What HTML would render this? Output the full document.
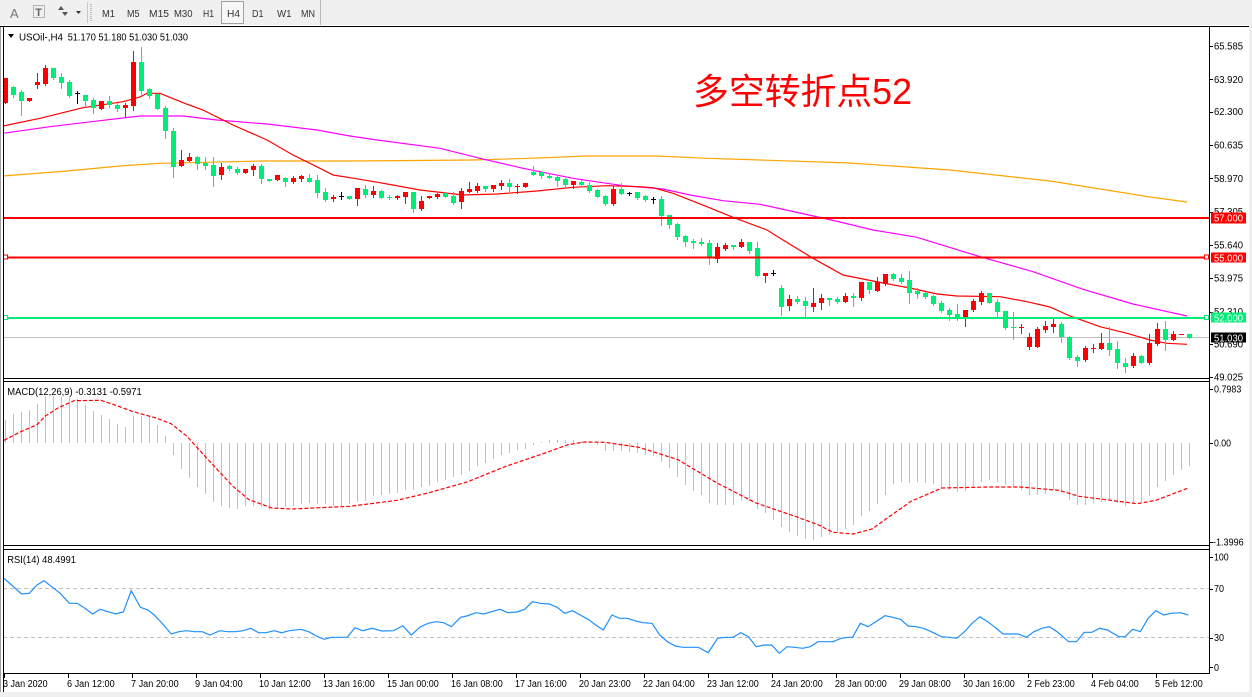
<!DOCTYPE html>
<html><head><meta charset="utf-8">
<style>
html,body{margin:0;padding:0;background:#fff;width:1252px;height:697px;overflow:hidden}
svg{display:block}
text{font-family:"Liberation Sans","DejaVu Sans",sans-serif;}
</style></head><body>
<svg id="s" width="1252" height="697" viewBox="0 0 1252 697" xmlns="http://www.w3.org/2000/svg">
<rect width="1252" height="697" fill="#fff"/>
<!-- toolbar -->
<rect x="0" y="0" width="1252" height="25" fill="#f0f0f0"/>
<text x="10" y="18" font-size="13" fill="#777">A</text>
<rect x="33.5" y="5.5" width="11" height="12" fill="none" stroke="#777" stroke-dasharray="1,1"/>
<text x="35.3" y="16" font-size="11" font-weight="bold" fill="#666">T</text>
<path d="M58,10 L61,6 L64,10 Z M62,12 L65,16 L68,12 Z" fill="#555"/>
<polygon points="76,11 81,11 78.5,14" fill="#333"/>
<line x1="87.5" y1="2" x2="87.5" y2="23" stroke="#c8c8c8"/>
<line x1="91" y1="4" x2="91" y2="21" stroke="#888" stroke-dasharray="1,1"/>
<rect x="221.5" y="1.5" width="22" height="22" fill="#f7f7f7" stroke="#a0a0a0"/>
<g font-size="10" fill="#333">
<text x="102" y="17" textLength="13" lengthAdjust="spacingAndGlyphs">M1</text>
<text x="127" y="17" textLength="12.5" lengthAdjust="spacingAndGlyphs">M5</text>
<text x="149" y="17" textLength="20" lengthAdjust="spacingAndGlyphs">M15</text>
<text x="174" y="17" textLength="18.5" lengthAdjust="spacingAndGlyphs">M30</text>
<text x="203" y="17" textLength="11" lengthAdjust="spacingAndGlyphs">H1</text>
<text x="227" y="17" textLength="13" lengthAdjust="spacingAndGlyphs">H4</text>
<text x="252" y="17" textLength="11.5" lengthAdjust="spacingAndGlyphs">D1</text>
<text x="277" y="17" textLength="14.5" lengthAdjust="spacingAndGlyphs">W1</text>
<text x="301" y="17" textLength="14" lengthAdjust="spacingAndGlyphs">MN</text>
</g>
<line x1="320.5" y1="0" x2="320.5" y2="25" stroke="#b8b8b8"/>
<!-- window edges -->
<rect x="1249" y="25" width="3" height="672" fill="#f0f0f0"/>
<rect x="0" y="692" width="1252" height="5" fill="#f0f0f0"/>
<line x1="0.5" y1="26" x2="0.5" y2="692" stroke="#a0a0a0"/>

<!-- main panel content -->
<line x1="3" y1="337.5" x2="1209" y2="337.5" stroke="#c0c0c0"/>
<g id="ma"></g>
<g id="candles" shape-rendering="crispEdges"></g>
<!-- horizontal level lines -->
<g shape-rendering="crispEdges">
<rect x="3" y="217" width="1206" height="2" fill="#ff0000"/>
<rect x="3" y="256.5" width="1206" height="2" fill="#ff0000"/>
<rect x="3.5" y="255" width="4" height="4" fill="#fff" stroke="#ff0000"/>
<rect x="1204.5" y="255" width="4" height="4" fill="#fff" stroke="#ff0000"/>
<rect x="3" y="317" width="1206" height="2" fill="#00ee77"/>
<rect x="3.5" y="315.5" width="4" height="4" fill="#fff" stroke="#00ee77"/>
<rect x="1204.5" y="315.5" width="4" height="4" fill="#fff" stroke="#00ee77"/>
</g>

<!-- MACD -->
<g id="macd" shape-rendering="crispEdges"></g>
<g id="sig"></g>
<!-- RSI -->
<line x1="3" y1="588.5" x2="1209" y2="588.5" stroke="#c0c0c0" stroke-dasharray="4,3"/>
<line x1="3" y1="637.5" x2="1209" y2="637.5" stroke="#c0c0c0" stroke-dasharray="4,3"/>
<g id="rsi"></g>

<!-- frames -->
<g fill="none" stroke="#000" stroke-width="1" shape-rendering="crispEdges">
<line x1="0" y1="26.5" x2="1249" y2="26.5"/>
<line x1="3.5" y1="26" x2="3.5" y2="692"/>
<line x1="1209.5" y1="26" x2="1209.5" y2="674"/>
<line x1="3" y1="378.5" x2="1210" y2="378.5"/>
<line x1="3" y1="381.5" x2="1210" y2="381.5"/>
<line x1="3" y1="545.5" x2="1210" y2="545.5"/>
<line x1="3" y1="549.5" x2="1210" y2="549.5"/>
<line x1="3" y1="673.5" x2="1210" y2="673.5"/>
</g>
<g id="ticks" stroke="#000" shape-rendering="crispEdges"></g>

<!-- headers -->
<polygon points="8,34 14,34 11,38" fill="#000"/>
<text x="19" y="40.5" font-size="10" textLength="44" lengthAdjust="spacingAndGlyphs">USOil-,H4</text>
<text x="67.7" y="40.5" font-size="10" textLength="120.3" lengthAdjust="spacingAndGlyphs">51.170 51.180 51.030 51.030</text>
<text x="7.3" y="395" font-size="10" textLength="134.4" lengthAdjust="spacingAndGlyphs">MACD(12,26,9) -0.3131 -0.5971</text>
<text x="7.3" y="563" font-size="10" textLength="68.7" lengthAdjust="spacingAndGlyphs">RSI(14) 48.4991</text>

<text x="693" y="104" font-size="36" fill="#ff0000" style="font-family:'Liberation Sans','Noto Sans CJK SC',sans-serif" textLength="219" lengthAdjust="spacingAndGlyphs">多空转折点52</text>

<!-- price axis labels -->
<g font-size="10" fill="#000">
<text x="1214" y="49.5" textLength="29" lengthAdjust="spacingAndGlyphs">65.585</text>
<text x="1214" y="82.8" textLength="29" lengthAdjust="spacingAndGlyphs">63.920</text>
<text x="1214" y="115.2" textLength="29" lengthAdjust="spacingAndGlyphs">62.300</text>
<text x="1214" y="148.5" textLength="29" lengthAdjust="spacingAndGlyphs">60.635</text>
<text x="1214" y="181.8" textLength="29" lengthAdjust="spacingAndGlyphs">58.970</text>
<text x="1214" y="215.1" textLength="29" lengthAdjust="spacingAndGlyphs">57.305</text>
<text x="1214" y="248.4" textLength="29" lengthAdjust="spacingAndGlyphs">55.640</text>
<text x="1214" y="281.7" textLength="29" lengthAdjust="spacingAndGlyphs">53.975</text>
<text x="1214" y="315" textLength="29" lengthAdjust="spacingAndGlyphs">52.310</text>
<text x="1214" y="347.4" textLength="29" lengthAdjust="spacingAndGlyphs">50.690</text>
<text x="1214" y="380.5" textLength="29" lengthAdjust="spacingAndGlyphs">49.025</text>
</g>
<g shape-rendering="crispEdges">
<rect x="1211" y="212.5" width="35" height="11" fill="#ff0000"/>
<rect x="1211" y="252.5" width="35" height="10" fill="#ff0000"/>
<rect x="1211" y="312.5" width="35" height="10" fill="#00ee77"/>
<rect x="1211" y="332.5" width="35" height="10" fill="#000"/>
</g>
<g font-size="10" fill="#fff">
<text x="1214" y="221.5" textLength="29" lengthAdjust="spacingAndGlyphs">57.000</text>
<text x="1214" y="261.3" textLength="29" lengthAdjust="spacingAndGlyphs">55.000</text>
<text x="1214" y="321.3" textLength="29" lengthAdjust="spacingAndGlyphs">52.000</text>
<text x="1214" y="341.3" textLength="29" lengthAdjust="spacingAndGlyphs">51.030</text>
</g>
<!-- MACD axis -->
<g font-size="10" fill="#000">
<text x="1214" y="392.5" textLength="27.3" lengthAdjust="spacingAndGlyphs">0.7983</text>
<text x="1214" y="446.5" textLength="17" lengthAdjust="spacingAndGlyphs">0.00</text>
<text x="1213" y="545.3" textLength="30.7" lengthAdjust="spacingAndGlyphs">-1.3996</text>
<text x="1214" y="560.5" textLength="14.7" lengthAdjust="spacingAndGlyphs">100</text>
<text x="1214" y="592" textLength="10" lengthAdjust="spacingAndGlyphs">70</text>
<text x="1214" y="641" textLength="10" lengthAdjust="spacingAndGlyphs">30</text>
<text x="1214" y="671" textLength="5" lengthAdjust="spacingAndGlyphs">0</text>
</g>
<!-- time axis -->
<g font-size="10" fill="#000">
<text x="3" y="687" textLength="44.7" lengthAdjust="spacingAndGlyphs">3 Jan 2020</text>
<text x="67" y="687" textLength="47.7" lengthAdjust="spacingAndGlyphs">6 Jan 12:00</text>
<text x="131" y="687" textLength="47.7" lengthAdjust="spacingAndGlyphs">7 Jan 20:00</text>
<text x="195" y="687" textLength="47.7" lengthAdjust="spacingAndGlyphs">9 Jan 04:00</text>
<text x="259" y="687" textLength="51.7" lengthAdjust="spacingAndGlyphs">10 Jan 12:00</text>
<text x="323" y="687" textLength="51.7" lengthAdjust="spacingAndGlyphs">13 Jan 16:00</text>
<text x="387" y="687" textLength="51.7" lengthAdjust="spacingAndGlyphs">15 Jan 00:00</text>
<text x="451" y="687" textLength="51.7" lengthAdjust="spacingAndGlyphs">16 Jan 08:00</text>
<text x="515" y="687" textLength="51.7" lengthAdjust="spacingAndGlyphs">17 Jan 16:00</text>
<text x="579" y="687" textLength="51.7" lengthAdjust="spacingAndGlyphs">20 Jan 23:00</text>
<text x="643" y="687" textLength="51.7" lengthAdjust="spacingAndGlyphs">22 Jan 04:00</text>
<text x="707" y="687" textLength="51.7" lengthAdjust="spacingAndGlyphs">23 Jan 12:00</text>
<text x="771" y="687" textLength="51.7" lengthAdjust="spacingAndGlyphs">24 Jan 20:00</text>
<text x="835" y="687" textLength="51.7" lengthAdjust="spacingAndGlyphs">28 Jan 00:00</text>
<text x="899" y="687" textLength="51.7" lengthAdjust="spacingAndGlyphs">29 Jan 08:00</text>
<text x="963" y="687" textLength="51.7" lengthAdjust="spacingAndGlyphs">30 Jan 16:00</text>
<text x="1027" y="687" textLength="47.7" lengthAdjust="spacingAndGlyphs">2 Feb 23:00</text>
<text x="1091" y="687" textLength="47.7" lengthAdjust="spacingAndGlyphs">4 Feb 04:00</text>
<text x="1155" y="687" textLength="47.7" lengthAdjust="spacingAndGlyphs">5 Feb 12:00</text>
</g>
</svg>
<script>
(function(){
var NS="http://www.w3.org/2000/svg";
function el(t,a,p){var e=document.createElementNS(NS,t);for(var k in a)e.setAttribute(k,a[k]);p.appendChild(e);return e;}
var C=[
[78,103,78,103,'r'],[86.7,95,85.7,97,'g'],[91.7,101,90,115,'g'],[97.7,100.7,97.7,100.7,'r'],[81.7,84.7,73,87.7,'r'],
[67.7,84,65,84.7,'r'],[67.7,77.7,67.7,78.7,'g'],[76.7,82.7,72.7,87.7,'g'],[81.7,95.7,80,96.7,'g'],[92.7,92.7,90.7,103.3,'k'],
[95,101,95,106,'g'],[100.3,108.3,98,112.7,'g'],[101,109.3,101,109.3,'r'],[101.3,105.3,96,106.7,'g'],[105,109,102.7,111,'g'],
[105,108.3,102.7,116.7,'r'],[62.3,105.7,51,110,'r'],[62.3,90.7,46.7,95,'g'],[89,95.7,87.7,98.3,'g'],[94.3,109,94.3,109,'g'],
[107.7,130.7,106,137.7,'g'],[131,166.7,128.3,176.7,'g'],[160,165.7,150,165.7,'r'],[156.7,160.7,153.3,160.7,'r'],[156.7,164,156,169,'g'],
[163.3,166,157.3,169,'g'],[165,175.7,157.3,185.7,'g'],[166.7,175,163.3,179.3,'r'],[166,169,165,170,'g'],[169,172.7,167,173.5,'g'],
[169,172.7,169,172.7,'r'],[165.7,170,164,175,'r'],[165.7,179.3,164,182.7,'g'],[179,180.7,179,180.7,'g'],[174.7,180,174.7,180,'r'],
[177.7,181.7,176.7,185.7,'g'],[177.7,182.3,176,183,'r'],[176,179,175,180.7,'r'],[177.7,181.7,174.3,182.3,'g'],[180,192.7,175,196.7,'g'],
[192.3,200,187.7,201,'g'],[196.7,199,195,201,'r'],[195.7,195.7,191.7,199,'k'],[196,199,196,199,'g'],[188.3,199,188.3,205,'r'],
[189,195,185,196.7,'g'],[191,195,186,196.7,'r'],[190.7,197.7,190,198.3,'g'],[197.3,197.3,195,199.3,'g'],[195.7,198.3,195,199,'r'],
[191.7,197.3,191.7,202.7,'r'],[192.3,209.3,192.3,211.7,'g'],[201,209.3,196,210,'r'],[195.7,197.7,195.7,197.7,'r'],[194,197.3,193.3,198,'r'],
[192.7,196.7,191.7,197.3,'g'],[195.7,203.3,191.7,204,'g'],[191,201.7,187.7,207.7,'r'],[189,192.3,182,192.3,'r'],[185.7,191,183.3,191.7,'r'],
[186,189.3,186,190.7,'g'],[185,189.3,185,190.7,'r'],[182.7,185.7,180,189,'r'],[182.7,187.3,179,190.7,'g'],[185.7,185.7,184.3,193.3,'r'],
[182.7,187.3,182.7,187.3,'r'],[171.7,175,166,175,'g'],[172.3,175.7,171.7,177.7,'g'],[175.7,177.7,173.3,177.7,'g'],[176.7,180.7,175.7,185.7,'g'],
[179,185,177.7,185.7,'g'],[181,185,181,187.7,'r'],[181.7,185,180,185.7,'g'],[185,191,181.7,191.7,'g'],[190,196.7,189.3,197.3,'g'],
[195.7,204,195,205,'g'],[189,204,186,205,'r'],[189,194,183.3,194,'g'],[193.3,193.3,191.7,195,'k'],[192.3,198.3,191.7,199,'g'],
[195.7,200,195,201,'g'],[199.3,199.3,196.7,203.3,'k'],[199.3,216,196,225,'g'],[215,225,215,227.7,'g'],[224,236.7,223.3,239.3,'g'],
[235.7,241.7,235,246,'g'],[241,242.7,239.3,247.7,'g'],[241.7,244,238.3,245,'g'],[243.3,258.3,240,264,'g'],[247.3,259,243.3,261.7,'r'],
[245,249,242.7,250,'r'],[245.3,246.7,245.3,249.3,'g'],[242.3,246.7,239,246.7,'r'],[242.3,250.7,242.3,253.3,'g'],[248.3,275.7,241.7,275.7,'g'],
[272.7,275.7,272.7,281.7,'r'],[272.7,272.7,270,275,'k'],[288.3,306.7,285,315,'g'],[299,305.7,295,310,'r'],[299,301.7,296,302.7,'g'],
[301,306,296.7,316,'g'],[302.7,306.7,288.3,311,'r'],[298.3,303.3,294,309,'r'],[298.3,300,298.3,305,'g'],[299,301.7,297.3,302.7,'g'],
[296,301.7,293.3,301.7,'r'],[296,297.7,293.3,306,'g'],[281.7,298.3,281.7,300,'r'],[282.3,290,281.7,293.3,'g'],[282.3,290.7,277.3,290.7,'r'],
[274,284,274,285,'r'],[274,279.3,272.7,280,'g'],[278.3,282.3,274.3,283.3,'g'],[280,293.3,271,302.7,'g'],[291,294,288.3,298.3,'g'],
[293.3,296.7,291.7,297.7,'g'],[296,304,295,305,'g'],[302.7,311,301,311.7,'g'],[310,315,308.3,320,'g'],[314,319,304,320,'g'],
[310,317.3,310,326,'r'],[301,310,299.3,311,'r'],[293.3,301.7,291,304,'r'],[293.3,302.7,293.3,302.7,'g'],[301.7,311.7,299.3,316,'g'],
[311,328.3,311,329.3,'g'],[327.3,327.3,311.7,339,'g'],[327.3,327.3,324.3,332.7,'r'],[336.7,346.7,332.7,349,'r'],[329,346.7,327.3,346.7,'r'],
[326,330,321,332.3,'r'],[324,326.7,319.3,332.3,'r'],[324,337.3,322.3,341.7,'g'],[336.7,358.3,336,359,'g'],[356.7,360.7,355,365.7,'g'],
[347.7,360,346,361,'r'],[347.7,347.7,344.3,351.7,'r'],[343.3,349,333.3,349,'r'],[343.3,350,326.7,355,'g'],[349.3,363.3,340.7,367.7,'g'],
[362.7,366.7,358.3,371.7,'g'],[356,366,352.7,366.7,'r'],[356,362.7,355,363.3,'g'],[343.3,363.3,334,364,'r'],[329.3,344,323.3,345,'r'],
[329.3,340,321,350,'g'],[334,340,331,340,'r'],[334.3,334.3,334.3,334.3,'r'],[334.3,337.7,334.3,337.7,'g']
];
var col={r:'#ff0000',g:'#00ee77',k:'#000000'};
var g=document.getElementById('candles');
C.forEach(function(c,i){var x=5+8*i;var bt=Math.round(c[0]),bb=Math.round(c[1]),wt=Math.round(c[2]),wb=Math.round(c[3]);
 el('rect',{x:x,y:wt,width:1,height:Math.max(1,wb-wt+1),fill:col[c[4]]},g);
 el('rect',{x:x-2,y:bt,width:5,height:Math.max(1,bb-bt),fill:col[c[4]]},g);
});
function pl(pts,attrs,p){var a={points:pts.map(function(q){return q[0]+','+q[1];}).join(' '),fill:'none'};for(var k in attrs)a[k]=attrs[k];el('polyline',a,p);}
var ma=document.getElementById('ma');
pl([[3,176],[67,171],[120,166],[160,163.3],[263,161],[350,161],[473,160],[530,158.3],[587,156],[657,156],[707,158.3],[760,160],[850,163],[950,170],[1050,181],[1150,197],[1187,202]],{stroke:'#ffa500','stroke-width':1.2},ma);
pl([[3,133.3],[50,126.7],[100,120.7],[140,116],[183,116],[217,120],[267,124],[317,130],[350,136],[377,140],[440,148.3],[480,158.3],[523,168.3],[573,178.3],[623,185.7],[663,189],[690,195],[723,200.7],[760,204.3],[800,213],[840,222],[873,230],[917,237.3],[980,256.7],[1033,271.7],[1083,289.3],[1133,304],[1187,316]],{stroke:'#ff00ff','stroke-width':1.2},ma);
pl([[3,126],[40,118.3],[83,107.7],[123,101.7],[140,97],[147,93.3],[160,93.3],[183,102.7],[203,110],[233,125],[267,140],[293,155],[320,168.3],[333,175],[350,177.7],[380,182.7],[420,190],[463,195],[497,194],[537,191],[573,187.3],[607,185.7],[640,186.7],[653,187.7],[673,193.3],[707,206.7],[733,217.3],[767,230],[783,240],[813,258.3],[843,275],[883,283],[910,288],[937,294],[957,296],[1000,296.7],[1027,301.7],[1050,307],[1070,316],[1100,326.7],[1127,333.3],[1150,340],[1167,343.3],[1187,344.3]],{stroke:'#ff0000','stroke-width':1.2},ma);
// MACD histogram
var H=[419.7,413.7,412.3,409.7,403.7,396.3,395.7,397,397,399,404.7,410.7,414.7,418.7,423.7,427,415.7,415.7,416.3,424.7,435.7,454.7,468.7,478,487.3,494,501.7,505.7,508.3,508.7,506.3,506.3,507,509.7,508,507,505.7,503.7,503,503.7,503.7,506.3,506.3,503.7,501.7,501.3,496.3,494.7,493.7,493,490.3,489.7,487,485.7,482.3,479.7,477,474.7,471.3,466.3,463,459,454.7,453,449.7,448.7,444.7,442.3,439.7,439.7,440.3,440.3,441.3,442.3,445];
var Z=[203,203,203,207,210,215,218,237,255,282,305,323,335,360,365,365,365,355,355,378,390,410,432,447,460,467,470,463,455,448,437,425,398,385,362,335,302,298,300,298,300,302,318,320,328,325,312,297,290,296,305,312,322,335,335,332,322,328,350,365,365,360,357,352,360,368,360,358,340,311,293,276,261,248];
Z.forEach(function(z){H.push(383+z/3);});
var m=document.getElementById('macd');
H.forEach(function(y,i){var x=5+8*i;var y0=443;var t=Math.round(Math.min(y,y0)),b=Math.round(Math.max(y,y0));
 el('rect',{x:x,y:t,width:1,height:Math.max(1,b-t),fill:'#c0c0c0'},m);});
pl([[4,440.3],[19.5,432.3],[37,424.7],[45,416.3],[58,408],[74,400.7],[101,400.3],[117,405.7],[132,411.3],[156,418],[171,423.7],[187,436.3],[202,453],[218,470.3],[233,486.3],[249,499.7],[272,508],[292,509],[350,506.3],[397,500.3],[428,493],[467,482],[506,466.3],[545,453],[568,444.7],[584,442],[605,442.3],[639,447.3],[678,459.7],[717,483],[756,503],[795,516.3],[818,524.7],[833,532.3],[853,534],[872,529],[892,514.7],[911,501.3],[942,488],[989,487],[1020,487],[1059,490.3],[1079,496.3],[1106,499.7],[1137,503.7],[1156,500.3],[1184,489.7],[1188,488]],{stroke:'#ff0000','stroke-width':1.2,'stroke-dasharray':'4,2'},document.getElementById('sig'));
// RSI
var R=[[5,55],[15,75],[28,102],[38,100],[48,75],[57,62],[68,82],[78,100],[90,130],[100,130],[110,145],[120,162],[130,148],[140,155],[150,162],[160,155],[170,92],[182,142],[192,150],[200,165],[212,195],[222,222],[232,215],[242,212],[252,215],[262,215],[272,225],[285,212],[295,215],[305,215],[315,212],[325,205],[335,218],[345,218],[355,212],[365,218],[375,212],[390,208],[400,215],[410,228],[420,238],[430,232],[450,232],[460,203],[470,212],[482,205],[495,213],[510,212],[522,197],[533,225],[545,200],[555,190],[565,185],[575,188],[585,200],[597,172],[605,168],[617,158],[627,162],[637,155],[648,148],[658,158],[670,156],[680,148],[690,125],[700,130],[712,132],[722,142],[732,160],[742,152],[752,165],[762,178],[772,195],[782,210],[793,165],[803,175],[813,175],[823,182],[833,188],[845,190],[855,225],[865,245],[875,258],[885,262],[905,262],[918,278],[930,235],[940,232],[950,232],[960,218],[970,230],[980,260],[990,255],[1000,255],[1010,280],[1020,260],[1030,262],[1040,265],[1050,260],[1060,245],[1070,245],[1080,245],[1090,235],[1100,232],[1105,232],[1115,190],[1125,200],[1135,185],[1147,167],[1157,172],[1167,178],[1177,198],[1187,200],[1197,205],[1207,215],[1220,230],[1230,232],[1240,235],[1250,215],[1260,190],[1270,170],[1280,185],[1290,203],[1300,222],[1310,222],[1320,222],[1330,232],[1340,215],[1350,205],[1360,200],[1370,215],[1385,245],[1395,245],[1405,217],[1415,217],[1425,205],[1435,210],[1450,230],[1458,230],[1468,208],[1478,215],[1488,175],[1498,152],[1508,165],[1518,160],[1530,158],[1540,165]];
pl(R.map(function(q){return [(q[0]/1.296).toFixed(1),(560+q[1]/3).toFixed(1)];}),{stroke:'#1e90ff','stroke-width':1.2},document.getElementById('rsi'));
// ticks
var tk=document.getElementById('ticks');
[46,79.3,111.7,145,178.3,211.6,244.9,278.2,311.5,343.9,377.2,389,443,542,556.7,588.5,637.5,667.3].forEach(function(y){el('line',{x1:1209,y1:Math.round(y)+0.5,x2:1213,y2:Math.round(y)+0.5},tk);});
for(var k=0;k<19;k++){var x=4+64*k+0.5;el('line',{x1:x,y1:674,x2:x,y2:678},tk);}
})();
</script>
</body></html>
